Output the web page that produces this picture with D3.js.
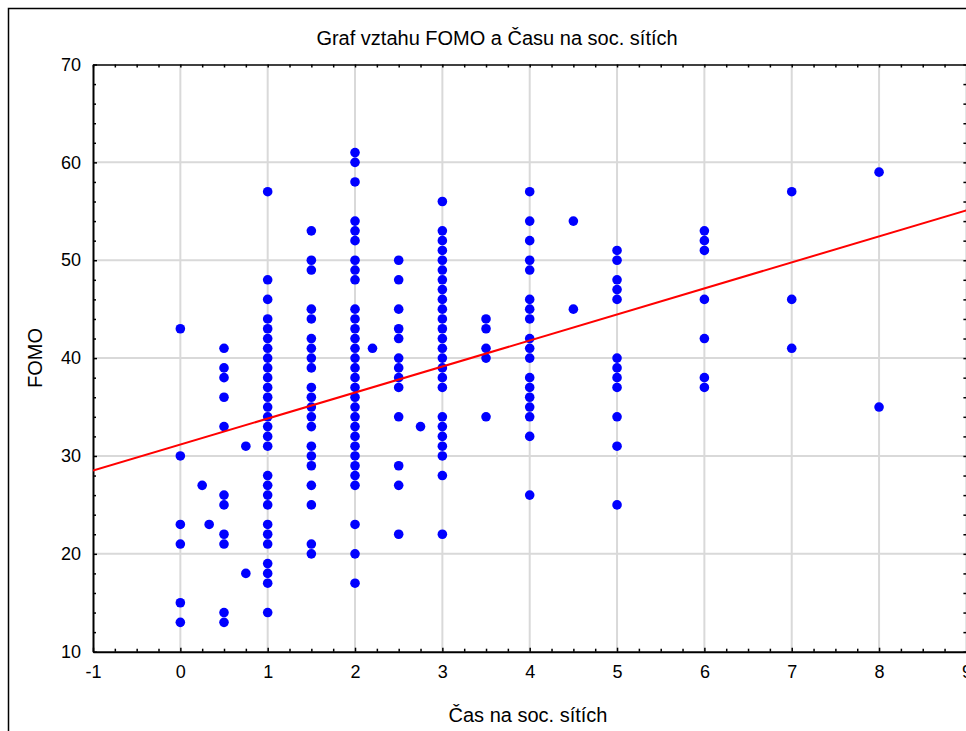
<!DOCTYPE html>
<html>
<head>
<meta charset="utf-8">
<script src="https://cdn.jsdelivr.net/npm/d3@7"></script>
<style>
  body { margin: 0; background: #fff; }
  svg { display: block; font-family: "Liberation Sans", Arial, sans-serif; }
</style>
</head>
<body>
<div id="chart"></div>
<script>
// Data: hours on social media and the FOMO scores seen at each
var hours = [0, 0.25, 0.33, 0.5, 0.75, 1, 1.5, 2, 2.2, 2.5, 2.75, 3, 3.5, 4, 4.5, 5, 6, 7, 8];
var fomoByHours = [
  [43, 30, 23, 21, 15, 13],
  [27],
  [23],
  [41, 39, 38, 36, 33, 26, 25, 22, 21, 14, 13],
  [31, 18],
  [57, 48, 46, 44, 43, 42, 41, 40, 39, 38, 37, 36, 35, 34, 33, 32, 31, 28, 27, 26, 25, 23, 22, 21, 19, 18, 17, 14],
  [53, 50, 49, 45, 44, 42, 41, 40, 39, 37, 36, 35, 34, 33, 31, 30, 29, 27, 25, 21, 20],
  [61, 60, 58, 54, 53, 52, 50, 49, 48, 45, 44, 43, 42, 41, 40, 39, 38, 37, 36, 35, 34, 33, 32, 31, 30, 29, 28, 27, 23, 20, 17],
  [41],
  [50, 48, 45, 43, 42, 40, 39, 38, 37, 34, 29, 27, 22],
  [33],
  [56, 53, 52, 51, 50, 49, 48, 47, 46, 45, 44, 43, 42, 41, 40, 39, 38, 37, 34, 33, 32, 31, 30, 28, 22],
  [44, 43, 41, 40, 34],
  [57, 54, 52, 50, 49, 46, 45, 44, 42, 41, 40, 38, 37, 36, 35, 34, 32, 26],
  [54, 45],
  [51, 50, 48, 47, 46, 40, 39, 38, 37, 34, 31, 25],
  [53, 52, 51, 46, 42, 38, 37],
  [57, 46, 41],
  [59, 35]
];

// fitted line, end points
var fitX = [-1, 9];
var fitY = [28.5, 55.1];

var xTicks = [-1, 0, 1, 2, 3, 4, 5, 6, 7, 8, 9];
var yTicks = [10, 20, 30, 40, 50, 60, 70];

var svgWidth = 966;
var svgHeight = 731;

var points = [];
hours.forEach(function(h, i) {
  fomoByHours[i].forEach(function(f) {
    points.push({ hours: h, fomo: f });
  });
});

var svg = d3.select("#chart")
  .append("svg")
  .attr("width", svgWidth)
  .attr("height", svgHeight);

// outer frame of the graph window
svg.append("rect")
  .attr("x", 8.5)
  .attr("y", 8.5)
  .attr("width", 1000)
  .attr("height", 800)
  .attr("fill", "none")
  .attr("stroke", "#000")
  .attr("stroke-width", 1.5);

var xScale = d3.scaleLinear().domain([-1, 9]).range([93, 966.4]);
var yScale = d3.scaleLinear().domain([10, 70]).range([651.7, 64.5]);

var plotLeft = xScale(-1), plotRight = xScale(9), plotTop = yScale(70), plotBottom = yScale(10);

svg.append("clipPath")
  .attr("id", "plotClip")
  .append("rect")
  .attr("x", plotLeft)
  .attr("y", plotTop)
  .attr("width", plotRight - plotLeft)
  .attr("height", plotBottom - plotTop);

// grid lines
var grid = svg.append("g").attr("stroke", "#d9d9d9").attr("stroke-width", 2);
grid.selectAll(".vgrid")
  .data(xTicks.slice(1, -1))
  .enter()
  .append("line")
  .attr("x1", d => xScale(d))
  .attr("x2", d => xScale(d))
  .attr("y1", plotTop)
  .attr("y2", plotBottom);
grid.selectAll(".hgrid")
  .data(yTicks.slice(1, -1))
  .enter()
  .append("line")
  .attr("x1", plotLeft)
  .attr("x2", plotRight)
  .attr("y1", d => yScale(d))
  .attr("y2", d => yScale(d));

// minor tick values
var xMinor = d3.range(-1, 9.01, 0.25).filter(v => v % 1 !== 0);
var yMinor = d3.range(10, 70.01, 2).filter(v => v % 10 !== 0);

function styleAxis(g) {
  g.attr("font-family", null).attr("font-size", null);
  g.select(".domain").attr("stroke", "#000").attr("stroke-width", 2);
  g.selectAll(".tick line").attr("stroke", "#000").attr("stroke-width", 1.5);
  g.selectAll(".tick text").attr("fill", "#000").style("font-size", "18px");
}

// bottom axis
svg.append("g")
  .attr("transform", `translate(0, ${plotBottom})`)
  .call(d3.axisBottom(xScale).tickValues(xTicks).tickSize(-4).tickSizeOuter(0).tickPadding(14).tickFormat(d => String(d)))
  .call(styleAxis);
svg.append("g")
  .attr("transform", `translate(0, ${plotBottom})`)
  .call(d3.axisBottom(xScale).tickValues(xMinor).tickSize(-3).tickSizeOuter(0).tickFormat(""))
  .call(styleAxis)
  .call(g => g.select(".domain").remove());

// top axis
svg.append("g")
  .attr("transform", `translate(0, ${plotTop})`)
  .call(d3.axisTop(xScale).tickValues(xTicks.concat(xMinor)).tickSize(-3).tickSizeOuter(0).tickFormat(""))
  .call(styleAxis)
  .call(g => g.select(".domain").attr("stroke-width", 1.5));

// left axis
svg.append("g")
  .attr("transform", `translate(${plotLeft}, 0)`)
  .call(d3.axisLeft(yScale).tickValues(yTicks).tickSize(-4).tickSizeOuter(0).tickPadding(12))
  .call(styleAxis);
svg.append("g")
  .attr("transform", `translate(${plotLeft}, 0)`)
  .call(d3.axisLeft(yScale).tickValues(yMinor).tickSize(-3).tickSizeOuter(0).tickFormat(""))
  .call(styleAxis)
  .call(g => g.select(".domain").remove());

// right axis
svg.append("g")
  .attr("transform", `translate(${plotRight}, 0)`)
  .call(d3.axisRight(yScale).tickValues(yTicks.concat(yMinor)).tickSize(-3).tickSizeOuter(0).tickFormat(""))
  .call(styleAxis);

// points
svg.append("g")
  .attr("clip-path", "url(#plotClip)")
  .selectAll("circle")
  .data(points)
  .enter()
  .append("circle")
  .attr("cx", d => xScale(d.hours))
  .attr("cy", d => yScale(d.fomo))
  .attr("r", 4.8)
  .attr("fill", "#0000ff");

// fitted line
svg.append("line")
  .attr("clip-path", "url(#plotClip)")
  .attr("x1", xScale(fitX[0]))
  .attr("y1", yScale(fitY[0]))
  .attr("x2", xScale(fitX[1]))
  .attr("y2", yScale(fitY[1]))
  .attr("stroke", "#ff0000")
  .attr("stroke-width", 2);

// titles
svg.append("text")
  .attr("x", 497)
  .attr("y", 45)
  .attr("text-anchor", "middle")
  .style("font-size", "20px")
  .text("Graf vztahu FOMO a Času na soc. sítích");

svg.append("text")
  .attr("x", 528)
  .attr("y", 722)
  .attr("text-anchor", "middle")
  .style("font-size", "20px")
  .text("Čas na soc. sítích");

svg.append("text")
  .attr("transform", "translate(42, 358) rotate(-90)")
  .attr("text-anchor", "middle")
  .style("font-size", "20px")
  .text("FOMO");
</script>
</body>
</html>
